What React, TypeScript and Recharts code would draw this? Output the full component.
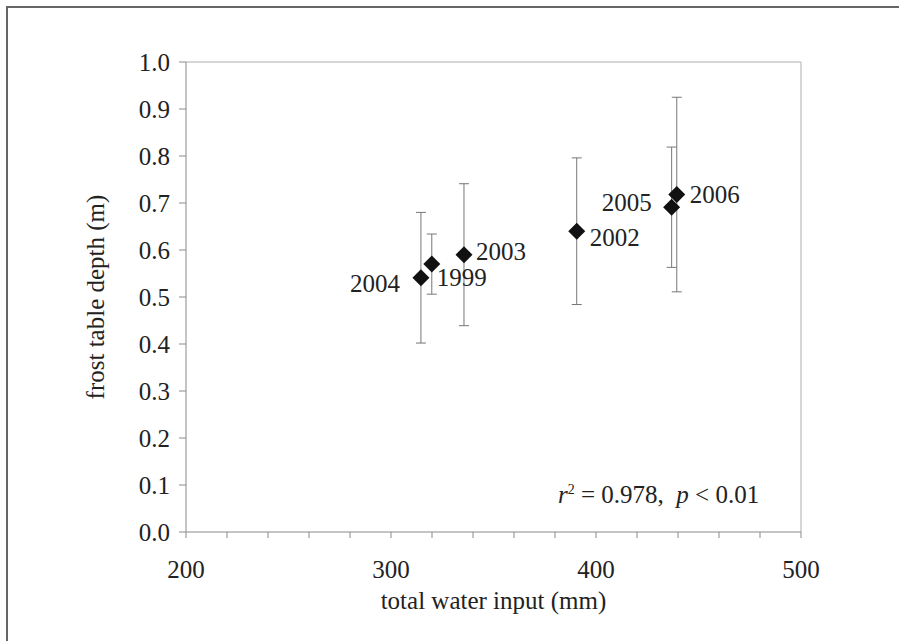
import React from 'react';
import { ScatterChart, Scatter, XAxis, YAxis, ErrorBar, ReferenceLine } from 'recharts';

// one point per year: total water input vs. mean frost table depth (± error)
const years = [2004, 1999, 2003, 2002, 2005, 2006];
const waterInput = [314.6, 319.9, 335.6, 390.6, 436.9, 439.4];
const frostDepth = [0.541, 0.57, 0.59, 0.64, 0.691, 0.718];
const depthError = [0.139, 0.064, 0.151, 0.156, 0.128, 0.207];

const xTicks = [200, 220, 240, 260, 280, 300, 320, 340, 360, 380, 400, 420, 440, 460, 480, 500];
const xLabelled = [200, 300, 400, 500];
const yTicks = [0, 0.1, 0.2, 0.3, 0.4, 0.5, 0.6, 0.7, 0.8, 0.9, 1.0];

// where each year label sits relative to its marker
const labelPlacement: Record<number, { dx: number; dy: number; anchor: 'start' | 'end' }> = {
  2004: { dx: -21, dy: 6, anchor: 'end' },
  1999: { dx: 5, dy: 13, anchor: 'start' },
  2003: { dx: 12, dy: -3, anchor: 'start' },
  2002: { dx: 13, dy: 6, anchor: 'start' },
  2005: { dx: -20, dy: -5, anchor: 'end' },
  2006: { dx: 13, dy: 0, anchor: 'start' },
};

const data = years.map((year, i) => ({
  year,
  x: waterInput[i],
  y: frostDepth[i],
  err: depthError[i],
}));

const FONT = "'Liberation Serif', 'Times New Roman', Times, 'DejaVu Serif', serif";
const TEXT = '#222';
const AXIS = '#8a8a8a';

const Diamond = (props: any) => {
  const { cx, cy, payload } = props;
  const s = 8.5;
  const place = labelPlacement[payload.year];
  return (
    <g>
      <polygon
        points={`${cx},${cy - s} ${cx + s},${cy} ${cx},${cy + s} ${cx - s},${cy}`}
        fill="#111"
      />
      <text
        x={cx + place.dx}
        y={cy + place.dy}
        textAnchor={place.anchor}
        dominantBaseline="central"
        style={{ fontFamily: FONT, fontSize: 25 }}
        fill={TEXT}
      >
        {payload.year}
      </text>
    </g>
  );
};

const YTitle = (props: any) => {
  const { viewBox } = props;
  // axis viewBox: its right edge is the plot's left edge
  const cx = viewBox.x + viewBox.width - 91;
  const cy = viewBox.y + viewBox.height / 2;
  return (
    <text
      x={cx}
      y={cy}
      transform={`rotate(-90, ${cx}, ${cy})`}
      textAnchor="middle"
      dominantBaseline="central"
      style={{ fontFamily: FONT, fontSize: 25 }}
      fill={TEXT}
    >
      frost table depth (m)
    </text>
  );
};

const XTitle = (props: any) => {
  const { viewBox } = props;
  return (
    <text
      x={viewBox.x + viewBox.width / 2}
      y={viewBox.y + 68}
      textAnchor="middle"
      dominantBaseline="central"
      style={{ fontFamily: FONT, fontSize: 25 }}
      fill={TEXT}
    >
      total water input (mm)
    </text>
  );
};

export default function App() {
  return (
    <div
      style={{
        position: 'absolute',
        left: 0,
        top: 0,
        width: 899,
        height: 641,
        background: '#fff',
        fontFamily: FONT,
      }}
    >
      <div
        style={{
          position: 'absolute',
          left: 6,
          top: 6,
          width: 899,
          height: 641,
          borderLeft: '2px solid #666',
          borderTop: '2px solid #666',
        }}
      />
      <ScatterChart
        width={899}
        height={641}
        margin={{ top: 62, right: 98, left: 126, bottom: 59 }}
        style={{ position: 'absolute', left: 0, top: 0, fontFamily: FONT }}
      >
        <XAxis
          type="number"
          dataKey="x"
          domain={[200, 500]}
          ticks={xTicks}
          interval={0}
          height={50}
          tickSize={6}
          tickMargin={22}
          tickFormatter={(v: number) => (xLabelled.includes(v) ? String(v) : '')}
          axisLine={{ stroke: AXIS }}
          tickLine={{ stroke: AXIS }}
          tick={{ fontFamily: FONT, fontSize: 25, fill: TEXT }}
          label={<XTitle />}
        />
        <YAxis
          type="number"
          dataKey="y"
          domain={[0, 1]}
          ticks={yTicks}
          interval={0}
          width={60}
          tickSize={7}
          tickMargin={9}
          tickFormatter={(v: number) => v.toFixed(1)}
          axisLine={{ stroke: AXIS }}
          tickLine={{ stroke: AXIS }}
          tick={{ fontFamily: FONT, fontSize: 25, fill: TEXT }}
          label={<YTitle />}
        />
        <ReferenceLine y={1} stroke="#c8c8c8" strokeWidth={1.5} />
        <ReferenceLine x={500} stroke="#c8c8c8" strokeWidth={1.5} />
        <Scatter data={data} shape={<Diamond />} isAnimationActive={false}>
          <ErrorBar dataKey="err" direction="y" width={5} stroke="#777" strokeWidth={1} />
        </Scatter>
      </ScatterChart>
      <div
        style={{
          position: 'absolute',
          left: 558,
          top: 480,
          fontSize: 25,
          lineHeight: '30px',
          color: TEXT,
          whiteSpace: 'nowrap',
        }}
      >
        <i>r</i>
        <sup style={{ fontSize: 14, lineHeight: 0 }}>2</sup> = 0.978,&nbsp; <i>p</i> &lt; 0.01
      </div>
    </div>
  );
}
